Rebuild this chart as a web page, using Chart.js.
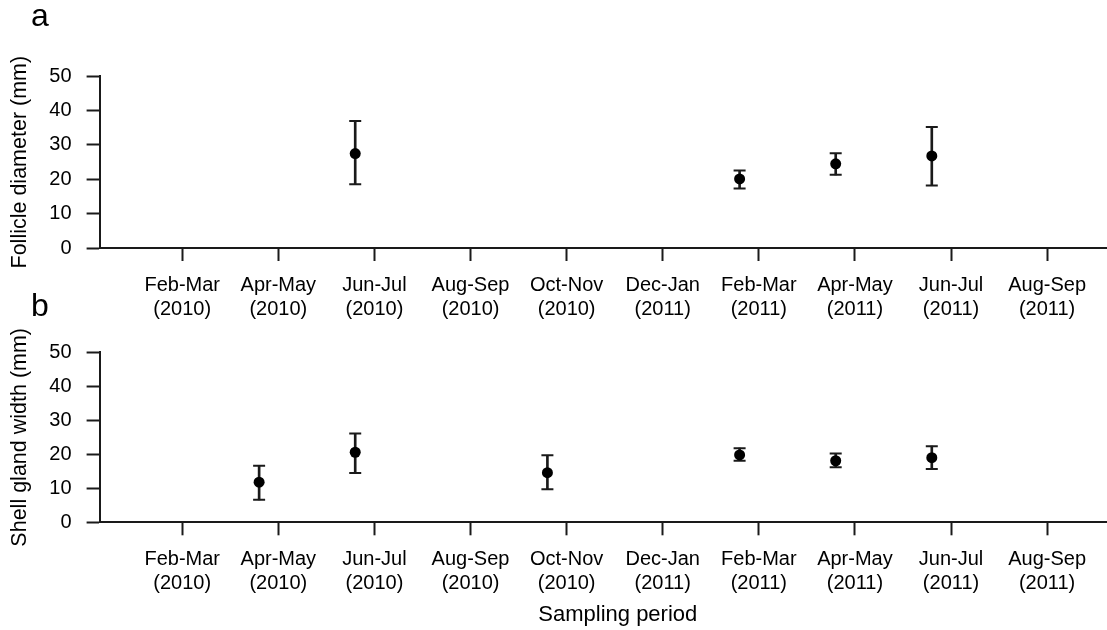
<!DOCTYPE html>
<html>
<head>
<meta charset="utf-8">
<script src="https://cdn.jsdelivr.net/npm/chart.js@4.4.1/dist/chart.umd.min.js"></script>
<style>
  html, body { margin: 0; padding: 0; background: #fff; overflow: hidden; }
  body { width: 1107px; height: 630px; position: relative; }
  canvas { position: absolute; left: 0; }
  #chartA { top: 0; }
  #chartB { top: 320px; }
  .panel { position: absolute; font-family: "Liberation Sans", Arial, sans-serif; font-size: 32px; line-height: 32px; color: #000; }
</style>
</head>
<body>
<canvas id="chartA" width="1144" height="320"></canvas>
<canvas id="chartB" width="1144" height="310"></canvas>
<div class="panel" style="left:31px; top:-1px;">a</div>
<div class="panel" style="left:31px; top:289px;">b</div>
<script>
// sampling periods (two-line tick labels)
const periods = [
  ["Feb-Mar", "(2010)"], ["Apr-May", "(2010)"], ["Jun-Jul", "(2010)"], ["Aug-Sep", "(2010)"],
  ["Oct-Nov", "(2010)"], ["Dec-Jan", "(2011)"], ["Feb-Mar", "(2011)"], ["Apr-May", "(2011)"],
  ["Jun-Jul", "(2011)"], ["Aug-Sep", "(2011)"]
];
const yTicks = [0, 10, 20, 30, 40, 50];

// a: follicle diameter (mm)
const follicleMean = [null, null, 27.5, null, null, null, 20.1, 24.5, 26.8, null];
const follicleLow  = [null, null, 18.6, null, null, null, 17.3, 21.3, 18.2, null];
const follicleHigh = [null, null, 37.0, null, null, null, 22.6, 27.6, 35.2, null];

// b: shell gland width (mm)
const shellMean = [null, 11.8, 20.6, null, 14.6, null, 19.8, 18.1, 19.0, null];
const shellLow  = [null,  6.6, 14.5, null,  9.7, null, 18.1, 16.2, 15.7, null];
const shellHigh = [null, 16.6, 26.1, null, 19.7, null, 21.8, 20.2, 22.4, null];

const FONT = "'Liberation Sans', Arial, sans-serif";
const INK = "#1a1a1a";
const SHIFT = -0.2; // points sit a bit left of the tick

function makePanel(id, yTitle, mean, low, high, cfg) {
  const pts = [], caps = [], bars = [];
  mean.forEach((m, i) => {
    if (m === null) return;
    const x = i + 1 + SHIFT;
    pts.push({ x: x, y: m });
    caps.push({ x: x, y: low[i] }, { x: x, y: high[i] });
    bars.push({ x: x, y: [low[i], high[i]] });
  });

  new Chart(document.getElementById(id), {
    type: "scatter",
    data: {
      datasets: [
        {
          data: pts,
          pointRadius: 5.5,
          pointBackgroundColor: "#000",
          pointBorderWidth: 0,
        },
        {
          data: caps,
          pointStyle: "line",
          pointRadius: 6,
          pointBorderWidth: 2,
          pointBorderColor: INK,
        },
        {
          type: "bar",
          data: bars,
          barThickness: 2,
          backgroundColor: INK,
          borderWidth: 0,
        },
      ],
    },
    options: {
      responsive: false,
      animation: false,
      layout: { padding: { top: cfg.top, left: 0, right: 0, bottom: 0 } },
      plugins: { legend: { display: false }, tooltip: { enabled: false } },
      scales: {
        x: {
          type: "linear",
          min: 0.14,
          max: 10.925,
          offset: false,
          afterFit: (s) => { s.height = cfg.axisH; },
          afterBuildTicks: (s) => { s.ticks = periods.map((p, i) => ({ value: i + 1 })); },
          border: { display: true, color: INK, width: 2 },
          grid: { offset: false, drawOnChartArea: false, tickLength: 13, tickWidth: 2, tickColor: INK },
          ticks: {
            color: "#000",
            padding: 12,
            maxRotation: 0,
            autoSkip: false,
            font: { family: FONT, size: 20, lineHeight: 1.2 },
            callback: (v) => periods[v - 1],
          },
          title: {
            display: !!cfg.xTitle,
            text: cfg.xTitle || "",
            color: "#000",
            padding: { top: 0, bottom: 2 },
            font: { family: FONT, size: 22 },
          },
        },
        y: {
          min: 0,
          max: 50,
          afterFit: (s) => { s.width = 99.6; },
          afterBuildTicks: (s) => { s.ticks = yTicks.map((v) => ({ value: v })); },
          border: { display: true, color: INK, width: 2 },
          grid: { offset: false, drawOnChartArea: false, tickLength: 13, tickWidth: 2, tickColor: INK },
          ticks: {
            color: "#000",
            padding: 15,
            font: { family: FONT, size: 20 },
          },
          title: {
            display: true,
            text: yTitle,
            color: "#000",
            padding: { top: 7, bottom: 0 },
            font: { family: FONT, size: 21.5 },
          },
        },
      },
    },
  });
}

makePanel("chartA", "Follicle diameter (mm)", follicleMean, follicleLow, follicleHigh,
  { top: 76.3, axisH: 72 });
makePanel("chartB", "Shell gland width (mm)", shellMean, shellLow, shellHigh,
  { top: 32.3, axisH: 107.7, xTitle: "Sampling period" });
</script>
</body>
</html>
